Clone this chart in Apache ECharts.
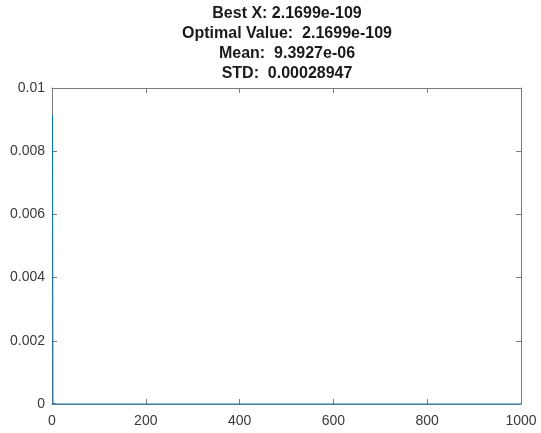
<!DOCTYPE html>
<html><head><meta charset="utf-8">
<script src="https://cdn.jsdelivr.net/npm/echarts@6/dist/echarts.min.js"></script>
<style>html,body{margin:0;padding:0;background:#fff}#c{width:541px;height:433px}</style>
</head><body><div id="c"></div>
<script>
var titleLines = ['Best X: 2.1699e-109', 'Optimal Value:  2.1699e-109', 'Mean:  9.3927e-06', 'STD:  0.00028947'];
var iterations = [1, 2, 3, 5, 10, 20, 50, 100, 200, 500, 1000];
var bestValues = [0.00915, 0.00002, 0.000001, 1e-8, 1e-12, 1e-18, 1e-30, 1e-45, 1e-62, 1e-90, 2.1699e-109];
var xTicks = [0, 200, 400, 600, 800, 1000];
var yTicks = [0, 0.002, 0.004, 0.006, 0.008, 0.01];

var font = 'Liberation Sans, Arial, Helvetica, sans-serif';
var axisCol = '#7a7a7a';
var labelCol = '#3a3a3a';
var chart = echarts.init(document.getElementById('c'), null, {renderer: 'canvas'});
var data = iterations.map(function (x, i) { return [x, bestValues[i]]; });
function xAxis(pos, show) {
  return {type: 'value', position: pos, min: xTicks[0], max: xTicks[xTicks.length - 1], interval: 200,
    axisLine: {show: true, onZero: false, lineStyle: {color: axisCol, width: 1}},
    axisTick: {show: true, inside: true, length: 5, lineStyle: {color: axisCol}},
    axisLabel: {show: show, color: labelCol, fontFamily: font, fontSize: 14, margin: 10,
      formatter: function (v) { return String(v); }},
    splitLine: {show: false}};
}
function yAxis(pos, show) {
  return {type: 'value', position: pos, min: yTicks[0], max: yTicks[yTicks.length - 1], interval: 0.002,
    axisLine: {show: true, onZero: false, lineStyle: {color: axisCol, width: 1}},
    axisTick: {show: true, inside: true, length: 5, lineStyle: {color: axisCol}},
    axisLabel: {show: show, color: labelCol, fontFamily: font, fontSize: 14, margin: 7,
      formatter: function (v) { return String(+v.toFixed(4)); }},
    splitLine: {show: false}};
}
chart.setOption({
  animation: false,
  title: {text: titleLines.join('\n'), left: 287, top: 4, padding: 0, textAlign: 'center',
    textStyle: {fontFamily: font, fontWeight: 'bold', fontSize: 16, color: '#1a1a1a', lineHeight: 20}},
  grid: {left: 52, right: 20, top: 88, bottom: 29, containLabel: false},
  xAxis: [xAxis('bottom', true), xAxis('top', false)],
  yAxis: [yAxis('left', true), yAxis('right', false)],
  series: [{type: 'line', data: data, xAxisIndex: 0, yAxisIndex: 0, showSymbol: false, symbol: 'none',
    lineStyle: {color: '#0072BD', width: 1}, clip: true, z: 5}]
});
</script></body></html>
